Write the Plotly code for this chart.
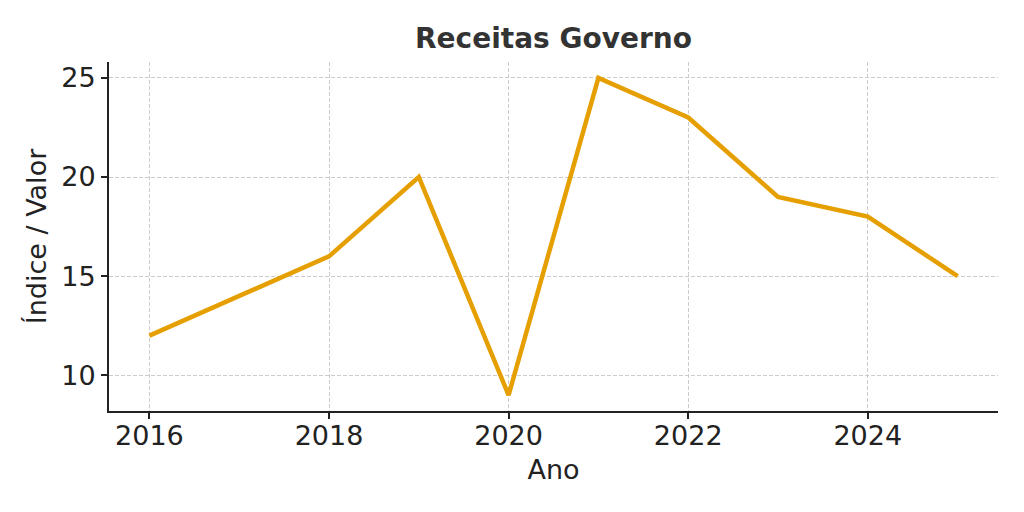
import plotly.graph_objects as go

years = [2016, 2017, 2018, 2019, 2020, 2021, 2022, 2023, 2024, 2025]
values = [12, 14, 16, 20, 9, 25, 23, 19, 18, 15]
x_ticks = [2016, 2018, 2020, 2022, 2024]
y_ticks = [10, 15, 20, 25]

fig = go.Figure()
fig.add_trace(go.Scatter(x=years, y=values, mode="lines",
                         line=dict(color="#E69F00", width=4.5)))

font = "DejaVu Sans"
fig.update_layout(
    width=1024, height=512,
    margin=dict(l=109, r=26, t=62, b=101),
    paper_bgcolor="white", plot_bgcolor="white",
    showlegend=False,
    title=dict(text="<b>Receitas Governo</b>", x=0.5405, xanchor="center",
               y=1 - 38 / 512, yanchor="middle",
               font=dict(family=font, size=28, color="#333333")),
    font=dict(family=font, color="#222222"),
)
fig.update_xaxes(
    range=[2015.55, 2025.45], tickvals=x_ticks, ticktext=[str(t) for t in x_ticks],
    tickfont=dict(size=27, color="#222222"),
    showline=True, linecolor="#222222", linewidth=2, mirror=False,
    ticks="outside", ticklen=6, tickwidth=1.5, tickcolor="#222222",
    ticklabelstandoff=-6,
    showgrid=True, gridcolor="#cccccc", griddash="4px,2px", gridwidth=1,
    zeroline=False,
    title=dict(text="Ano", font=dict(size=27, color="#222222"), standoff=10),
)
fig.update_yaxes(
    range=[8.2, 25.8], tickvals=y_ticks,
    tickfont=dict(size=27, color="#222222"),
    showline=True, linecolor="#222222", linewidth=2, mirror=False,
    ticks="outside", ticklen=6, tickwidth=1.5, tickcolor="#222222",
    showgrid=True, gridcolor="#cccccc", griddash="4px,2px", gridwidth=1,
    zeroline=False,
    title=dict(text="Índice / Valor", font=dict(size=27, color="#222222"), standoff=7),
)
fig.write_html(
    "out.html",
    config={"displayModeBar": False},
    post_script="document.documentElement.style.margin='0';"
                "document.body.style.margin='0';document.body.style.overflow='hidden';",
)
